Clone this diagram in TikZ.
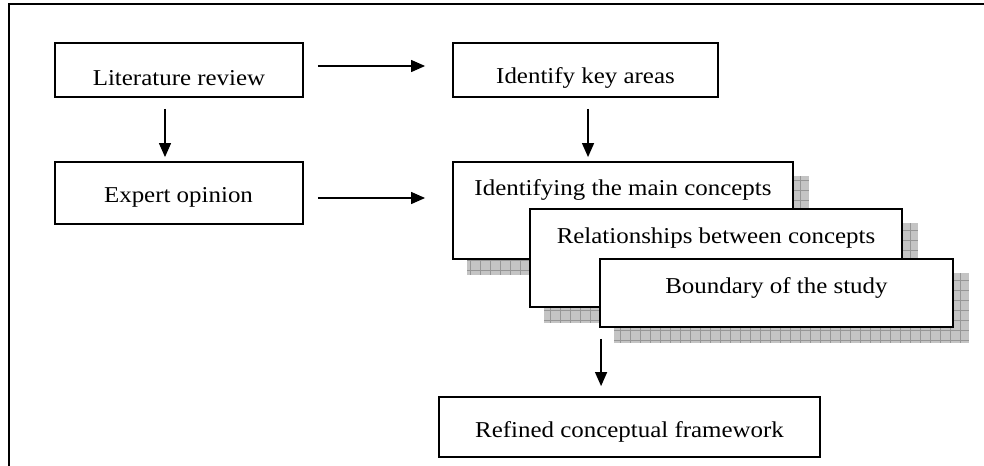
\documentclass[tikz,border=0pt]{standalone}
\usepackage{fontspec}
\setmainfont{Liberation Serif}[FakeStretch=1.1]
\usetikzlibrary{arrows.meta,backgrounds,calc}
\definecolor{shadowgray}{RGB}{196,196,196}
\definecolor{gridgray}{RGB}{150,150,150}
\tikzset{
  box/.style={draw, fill=white, line width=1.4pt, inner sep=0pt},
  txt/.style={font=\fontsize{17pt}{20pt}\selectfont, inner sep=0pt, anchor=base},
  arr/.style={line width=1pt, -{Triangle[length=10.5pt,width=9pt]}},
  shadowbox/.style={fill=shadowgray, path picture={\draw[gridgray, line width=0.6pt]
      (path picture bounding box.south west) grid[step=7.5pt] (path picture bounding box.north east);}},
  frame/.style={line width=1.1pt}
}
\begin{document}
\begin{tikzpicture}[x=0.75pt,y=-0.75pt]
\useasboundingbox (0,0) rectangle (984,465);
\begin{scope}
\clip (0,0) rectangle (984,465);
\draw[frame] (9,475) -- (9,4) -- (995,4);
\end{scope}

% top row
\node[box, minimum width=186pt, minimum height=40.5pt] (lit) at (179,70) {};
\node[txt] (litT) at (179,85) {Literature review};
\node[box, minimum width=198.75pt, minimum height=40.5pt] (idk) at (585.5,70) {};
\node[txt] (idkT) at (585.5,83) {Identify key areas};

% expert
\node[box, minimum width=186pt, minimum height=46.5pt] (exp) at (179,193) {};
\node[txt] (expT) at (178.5,202) {Expert opinion};

% stacked boxes
\node[box, minimum width=255pt, minimum height=72.75pt] (b1) at (623,210.5) {};
\node[txt] (t1) at (623,195) {Identifying the main concepts};
\node[box, minimum width=279pt, minimum height=73.5pt] (b2) at (716,258) {};
\node[txt] (t2) at (716,243) {Relationships between concepts};
\node[box, minimum width=264.75pt, minimum height=51pt] (b3) at (776.5,293) {};
\node[txt] (t3) at (776.5,293) {Boundary of the study};

\begin{scope}[on background layer]
\foreach \b in {b1,b2,b3}{
  \path[shadowbox] ([shift={(15,15)}]\b.north west) rectangle ([shift={(15,15)}]\b.south east);
}
\end{scope}

% refined
\node[box, minimum width=285.75pt, minimum height=45pt] (ref) at (629.5,427) {};
\node[txt] (refT) at (629.5,437) {Refined conceptual framework};

% connectors
\draw[arr] ([xshift=10.5pt,yshift=3pt]lit.east) coordinate (a1) -- ([xshift=-20.25pt]a1 -| idk.west);
\draw[arr] ([xshift=-10.5pt,yshift=-8.25pt]lit.south) coordinate (a2) -- ([yshift=3pt]a2 |- exp.north);
\draw[arr] ([xshift=1.9pt,yshift=-8.25pt]idk.south) coordinate (a3) -- ([yshift=3pt]a3 |- b1.north);
\draw[arr] ([xshift=10.5pt,yshift=-3.75pt]exp.east) coordinate (a4) -- ([xshift=-20.25pt]a4 -| b1.west);
\draw[arr] ([xshift=1.5pt,yshift=-8.25pt]b3.south west) coordinate (a5) -- ([yshift=7.5pt]a5 |- ref.north);
\end{tikzpicture}
\end{document}
